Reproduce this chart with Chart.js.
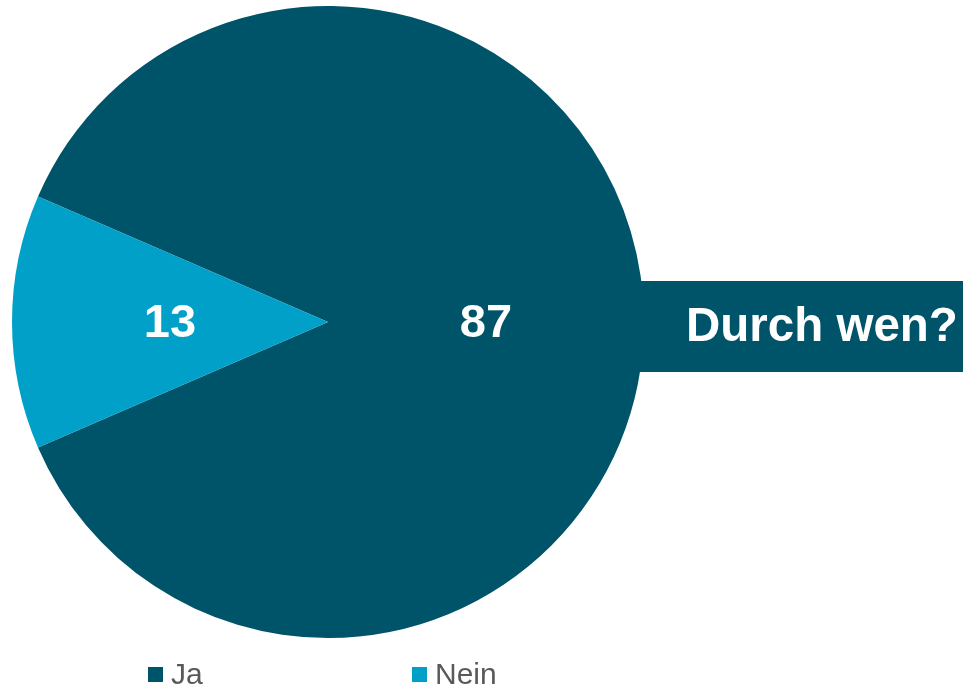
<!DOCTYPE html>
<html>
<head>
<meta charset="utf-8">
<script src="https://cdn.jsdelivr.net/npm/chart.js@4.4.0/dist/chart.umd.min.js"></script>
<style>
  html, body { margin: 0; padding: 0; background: #fff; }
  #wrap { width: 963px; height: 688px; position: relative; }
</style>
</head>
<body>
<div id="wrap"><canvas id="chart"></canvas></div>
<script>
const labels = ['Ja', 'Nein'];
const values = [87, 13];
const colors = ['#00546A', '#00A0C8'];
const question = 'Durch wen?';

const total = values.reduce((a, b) => a + b, 0);

// Kasten mit der Frage, liegt hinter dem Kreis
const questionBox = {
  id: 'questionBox',
  beforeDatasetsDraw(chart) {
    const ctx = chart.ctx;
    ctx.save();
    ctx.fillStyle = colors[0];
    ctx.fillRect(600, 281, 363, 91);
    ctx.fillStyle = '#ffffff';
    ctx.font = 'bold 47.5px "Liberation Sans", Arial, sans-serif';
    ctx.textBaseline = 'middle';
    ctx.textAlign = 'left';
    ctx.fillText(question, 686, 328);
    ctx.restore();
  }
};

// Werte in die Segmente schreiben
const sliceLabels = {
  id: 'sliceLabels',
  afterDatasetsDraw(chart) {
    const ctx = chart.ctx;
    const meta = chart.getDatasetMeta(0);
    ctx.save();
    ctx.fillStyle = '#ffffff';
    ctx.font = 'bold 47px "Liberation Sans", Arial, sans-serif';
    ctx.textAlign = 'center';
    ctx.textBaseline = 'middle';
    meta.data.forEach((arc, i) => {
      const p = arc.getCenterPoint();
      ctx.fillText(String(values[i]), p.x, p.y + 2);
    });
    ctx.restore();
  }
};

// Legende unten, weit auseinander
const bottomLegend = {
  id: 'bottomLegend',
  afterDraw(chart) {
    const ctx = chart.ctx;
    const startX = [148, 412];
    ctx.save();
    ctx.font = '30px "Liberation Sans", Arial, sans-serif';
    ctx.textBaseline = 'middle';
    ctx.textAlign = 'left';
    labels.forEach((lab, i) => {
      ctx.fillStyle = colors[i];
      ctx.fillRect(startX[i], 667, 15, 15);
      ctx.fillStyle = '#595959';
      ctx.fillText(lab, startX[i] + 23, 676);
    });
    ctx.restore();
  }
};

new Chart(document.getElementById('chart'), {
  type: 'pie',
  data: {
    labels: labels,
    datasets: [{
      data: values,
      backgroundColor: colors,
      borderWidth: 0
    }]
  },
  options: {
    responsive: true,
    maintainAspectRatio: false,
    animation: false,
    rotation: 270 + (values[1] / total) * 180,
    layout: { padding: { left: 12, top: 6, right: 319, bottom: 50 } },
    plugins: {
      legend: { display: false },
      tooltip: { enabled: false }
    }
  },
  plugins: [questionBox, sliceLabels, bottomLegend]
});
</script>
</body>
</html>
